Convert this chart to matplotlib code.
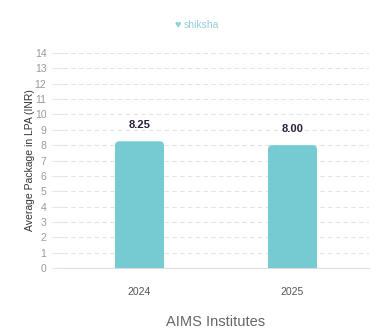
import matplotlib.pyplot as plt
from matplotlib.patches import FancyBboxPatch

years = ["2024", "2025"]
packages = [8.25, 8.00]

plt.rcParams['font.family'] = ['Liberation Sans', 'DejaVu Sans']

fig = plt.figure(figsize=(3.82, 3.36), dpi=100)
ax = fig.add_axes([63 / 382, 68 / 336, 306 / 382, 215 / 336])

x = range(len(years))
bar_w = 0.32
for i, v in zip(x, packages):
    # rounded top corners; the bottom ones fall below 0 and get clipped
    p = FancyBboxPatch((i - bar_w / 2, -0.6), bar_w, v + 0.6,
                       boxstyle="round,pad=0,rounding_size=0.028",
                       mutation_aspect=10, facecolor="#76cbd2",
                       edgecolor="none", zorder=3)
    ax.add_patch(p)
    ax.text(i, v + 0.75, f"{v:.2f}", ha="center", va="bottom",
            fontsize=8, fontweight="bold", color="#2b1f3a", zorder=4)

ax.set_xlim(-0.5, 1.5)
ax.set_ylim(0, 14)
ax.set_yticks(range(0, 15))
ax.set_xticks(list(x))
ax.set_xticklabels(years)
ax.tick_params(axis="y", length=8, color="#e6e6e6", labelsize=7.5, labelcolor="#999999", pad=4)
ax.tick_params(axis="x", length=0, labelsize=7.5, labelcolor="#555555", pad=14)
ax.yaxis.grid(True, linestyle=(0, (4, 3)), color="#e3e3e3", linewidth=0.8, zorder=0)
for s in ["top", "right", "left"]:
    ax.spines[s].set_visible(False)
ax.spines["bottom"].set_color("#dddddd")
ax.set_ylabel("Average Package in LPA (INR)", fontsize=7.5, color="#333333", labelpad=0)
ax.set_xlabel("AIMS Institutes", fontsize=10.5, color="#666666", labelpad=13)

# brand mark at the top
fig.text(0.475, 0.925, "\u2665", fontsize=8, color="#8fd0d6", ha="right", va="center")
fig.text(0.48, 0.925, "shiksha", fontsize=7.5, color="#8fd0d6", ha="left", va="center")

fig.savefig("out.png", dpi=100)
